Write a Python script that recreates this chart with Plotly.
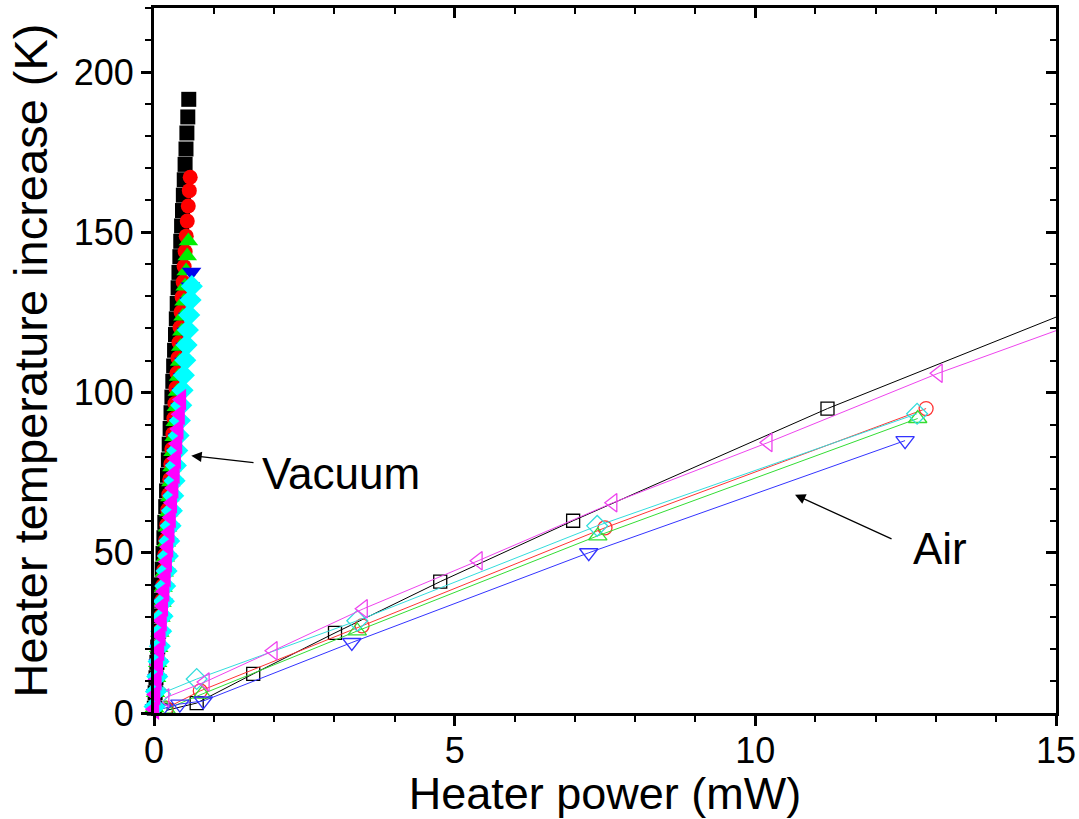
import plotly.graph_objects as go

# ---------------- Vacuum series (filled markers) ----------------
vac_black_x = [0.005, 0.019, 0.033, 0.048, 0.062, 0.077, 0.092, 0.106, 0.121, 0.136, 0.150, 0.165, 0.180, 0.195,
               0.209, 0.224, 0.239, 0.253, 0.268, 0.283, 0.298, 0.313, 0.327, 0.342, 0.357, 0.371, 0.386, 0.401,
               0.415, 0.430, 0.445, 0.459, 0.474, 0.488, 0.503, 0.517, 0.532, 0.547, 0.562, 0.578]
vac_black_y = [1.5, 6.3, 11.0, 15.8, 20.6, 25.5, 30.3, 35.2, 40.0, 44.9, 49.8, 54.7, 59.5, 64.4,
               69.3, 74.2, 79.0, 83.9, 88.8, 93.7, 98.6, 103.5, 108.3, 113.2, 118.1, 123.0, 127.8, 132.7,
               137.5, 142.4, 147.2, 152.0, 156.8, 161.6, 166.4, 171.2, 176.0, 181.0, 186.0, 191.5]

vac_red_x = [0.006, 0.023, 0.041, 0.058, 0.075, 0.092, 0.109, 0.126, 0.143, 0.160, 0.177, 0.194, 0.211, 0.228,
             0.246, 0.262, 0.280, 0.297, 0.314, 0.331, 0.348, 0.365, 0.382, 0.399, 0.416, 0.433, 0.450, 0.467,
             0.484, 0.501, 0.518, 0.536, 0.553, 0.570, 0.587, 0.602]
vac_red_y = [1.8, 6.5, 11.3, 16.0, 20.8, 25.5, 30.2, 35.0, 39.7, 44.5, 49.2, 54.0, 58.7, 63.4,
             68.2, 72.9, 77.7, 82.4, 87.1, 91.9, 96.6, 101.4, 106.1, 110.8, 115.6, 120.3, 125.1, 129.8,
             134.5, 139.3, 144.0, 148.8, 153.5, 158.2, 163.0, 167.2]

vac_green_x = [0.006, 0.024, 0.043, 0.061, 0.079, 0.097, 0.116, 0.134, 0.152, 0.170, 0.189, 0.207, 0.225, 0.243,
               0.262, 0.280, 0.298, 0.316, 0.334, 0.353, 0.371, 0.389, 0.407, 0.426, 0.444, 0.462, 0.480, 0.499,
               0.517, 0.535, 0.553, 0.572]
vac_green_y = [1.6, 6.3, 11.0, 15.7, 20.4, 25.1, 29.8, 34.5, 39.2, 43.9, 48.6, 53.3, 58.0, 62.7,
               67.4, 72.1, 76.8, 81.5, 86.2, 90.9, 95.6, 100.3, 105.0, 109.7, 114.4, 119.1, 123.8, 128.5,
               133.2, 137.9, 142.6, 147.3]

vac_blue_x = [0.006, 0.028, 0.049, 0.070, 0.092, 0.113, 0.135, 0.156, 0.177, 0.199, 0.220, 0.241, 0.263, 0.284,
              0.305, 0.327, 0.348, 0.370, 0.391, 0.412, 0.434, 0.455, 0.476, 0.498, 0.519, 0.540, 0.562, 0.583,
              0.605, 0.625]
vac_blue_y = [1.4, 6.1, 10.8, 15.5, 20.2, 24.9, 29.6, 34.3, 39.0, 43.7, 48.4, 53.1, 57.8, 62.5,
              67.2, 71.9, 76.6, 81.3, 86.0, 90.7, 95.4, 100.1, 104.8, 109.5, 114.2, 118.9, 123.6, 128.3,
              133.0, 137.6]

vac_cyan_x = [0.009, 0.032, 0.054, 0.076, 0.098, 0.120, 0.143, 0.165, 0.187, 0.209, 0.231, 0.253, 0.276, 0.298,
              0.320, 0.342, 0.364, 0.387, 0.409, 0.431, 0.453, 0.475, 0.497, 0.520, 0.542, 0.564, 0.586, 0.608,
              0.629]
vac_cyan_y = [2.0, 6.7, 11.4, 16.1, 20.8, 25.5, 30.2, 34.9, 39.6, 44.3, 49.0, 53.7, 58.4, 63.1,
              67.8, 72.5, 77.2, 81.9, 86.6, 91.3, 96.0, 100.7, 105.4, 110.1, 114.8, 119.5, 124.2, 128.9,
              133.2]

vac_magenta_x = [0.006, 0.027, 0.048, 0.070, 0.091, 0.113, 0.134, 0.155, 0.177, 0.198, 0.219, 0.241, 0.262, 0.284,
                 0.305, 0.326, 0.348, 0.369, 0.391, 0.412, 0.433, 0.455]
vac_magenta_y = [1.2, 5.8, 10.4, 15.0, 19.6, 24.2, 28.8, 33.4, 38.0, 42.6, 47.2, 51.8, 56.4, 61.0,
                 65.6, 70.2, 74.8, 79.4, 84.0, 88.6, 93.2, 97.8]

# ---------------- Air series (open markers + lines) ----------------
air_black_x = [0.20, 0.71, 1.65, 3.01, 4.76, 6.97, 11.20, 16.50]
air_black_y = [0.8, 3.1, 12.2, 25.0, 41.0, 60.0, 95.0, 134.8]

air_red_x = [0.20, 0.77, 3.46, 7.50, 12.84]
air_red_y = [1.5, 6.9, 27.2, 57.8, 95.0]

air_green_x = [0.20, 0.80, 3.38, 7.38, 12.70]
air_green_y = [1.2, 5.9, 25.6, 55.3, 91.9]

air_blue_x = [0.13, 0.43, 0.82, 3.29, 7.23, 12.49]
air_blue_y = [1.25, 2.8, 3.75, 22.0, 50.0, 85.0]

air_cyan_x = [0.10, 0.71, 3.38, 7.37, 12.69]
air_cyan_y = [5.9, 10.6, 28.8, 58.4, 93.4]

air_magenta_x = [0.18, 0.85, 1.98, 3.48, 5.39, 7.63, 10.21, 13.04, 16.50]
air_magenta_y = [4.7, 9.7, 19.4, 32.5, 47.5, 65.6, 84.4, 106.0, 129.5]

x_tick_vals = [0, 5, 10, 15]
y_tick_vals = [0, 50, 100, 150, 200]

FONT = "Liberation Sans, Arial, sans-serif"

fig = go.Figure()

# Air traces
air = [
    (air_black_x, air_black_y, "#000000", "square-open", 13),
    (air_red_x, air_red_y, "#FF3333", "circle-open", 14),
    (air_green_x, air_green_y, "#33DD33", "triangle-up-open", 16),
    (air_blue_x, air_blue_y, "#3333FF", "triangle-down-open", 16),
    (air_cyan_x, air_cyan_y, "#33DDDD", "diamond-open", 16),
    (air_magenta_x, air_magenta_y, "#EE44EE", "triangle-left-open", 16),
]
for xs, ys, col, sym, sz in air:
    fig.add_trace(go.Scatter(
        x=xs, y=ys, mode="lines+markers",
        line=dict(color=col, width=1),
        marker=dict(symbol=sym, size=sz, color=col, line=dict(color=col, width=1.3)),
        cliponaxis=True, showlegend=False))

# Vacuum traces
vac = [
    (vac_black_x, vac_black_y, "#000000", "square", 15),
    (vac_red_x, vac_red_y, "#FF0000", "circle", 15),
    (vac_green_x, vac_green_y, "#00EE00", "triangle-up", 17),
    (vac_blue_x, vac_blue_y, "#0000EE", "triangle-down", 17),
    (vac_cyan_x, vac_cyan_y, "#00FFFF", "diamond", 17),
    (vac_magenta_x, vac_magenta_y, "#FF00FF", "triangle-left", 19),
]
for xs, ys, col, sym, sz in vac:
    fig.add_trace(go.Scatter(
        x=xs, y=ys, mode="markers",
        marker=dict(symbol=sym, size=sz, color=col, line=dict(width=0)),
        cliponaxis=False, showlegend=False))

# empty trace so that the mirrored (top / right) frame axes are drawn
fig.add_trace(go.Scatter(x=[], y=[], xaxis="x2", yaxis="y2", showlegend=False, hoverinfo="skip"))

axis_common = dict(showgrid=False, zeroline=False, linecolor="black", linewidth=3,
                   tickcolor="black", tickwidth=3, ticklen=10, automargin=False)

fig.update_layout(
    width=1079, height=819,
    margin=dict(l=154, r=23, t=8, b=106),
    plot_bgcolor="white", paper_bgcolor="white",
    font=dict(family=FONT, color="black"),
    showlegend=False,
    xaxis=dict(range=[0, 15], tickvals=x_tick_vals, ticks="outside",
               tickfont=dict(size=36, family=FONT), ticklabelstandoff=-6,
               minor=dict(dtick=1, ticks="outside", ticklen=6, tickwidth=2, tickcolor="black"),
               title=dict(text="Heater power (mW)", font=dict(size=45, family=FONT), standoff=6),
               **axis_common),
    yaxis=dict(range=[0, 220], tickvals=y_tick_vals, ticks="outside",
               tickfont=dict(size=36, family=FONT),
               minor=dict(dtick=10, ticks="outside", ticklen=6, tickwidth=2, tickcolor="black"),
               title=dict(text="Heater temperature increase (K)", font=dict(size=47, family=FONT), standoff=12),
               **axis_common),
    xaxis2=dict(range=[0, 15], overlaying="x", side="top", anchor="y2", tickvals=x_tick_vals,
                ticks="inside", showticklabels=False,
                minor=dict(dtick=1, ticks="inside", ticklen=6, tickwidth=2, tickcolor="black"),
                **axis_common),
    yaxis2=dict(range=[0, 220], overlaying="y", side="right", anchor="x2", tickvals=y_tick_vals,
                ticks="inside", showticklabels=False,
                minor=dict(dtick=10, ticks="inside", ticklen=6, tickwidth=2, tickcolor="black"),
                **axis_common),
)

# Annotations: labels with arrows
fig.add_annotation(x=3.11, y=74.7, text="Vacuum", showarrow=False,
                   font=dict(size=44, family=FONT, color="black"))
fig.add_annotation(x=13.07, y=51.3, text="Air", showarrow=False,
                   font=dict(size=44, family=FONT, color="black"))
fig.add_annotation(x=0.62, y=80.3, ax=1.68, ay=78.1, axref="x", ayref="y", text="",
                   showarrow=True, arrowhead=2, arrowsize=1.6, arrowwidth=1.3, arrowcolor="black")
fig.add_annotation(x=10.66, y=68.1, ax=12.29, ay=54.1, axref="x", ayref="y", text="",
                   showarrow=True, arrowhead=2, arrowsize=1.6, arrowwidth=1.3, arrowcolor="black")

fig.write_html("out.html")
